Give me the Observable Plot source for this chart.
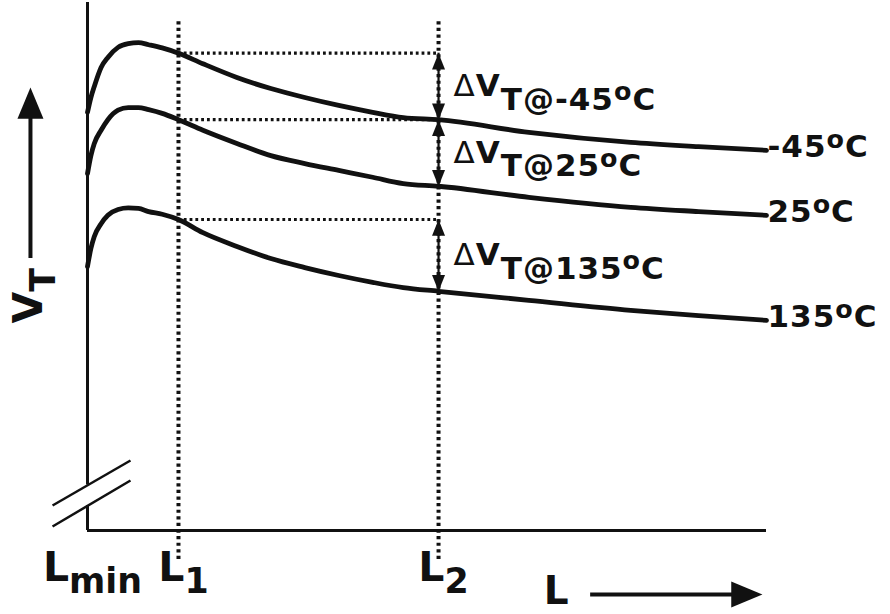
<!DOCTYPE html>
<html>
<head>
<meta charset="utf-8">
<script src="https://cdn.jsdelivr.net/npm/d3@7"></script>
<script src="https://cdn.jsdelivr.net/npm/@observablehq/plot@0.6"></script>
<style>
  html, body { margin: 0; padding: 0; background: #fff; }
</style>
</head>
<body>
<div id="chart"></div>
<script>
// Channel length L (normalized units, Lmin = 0), shared by all curves
const L = [0, 0.5, 1, 2, 3, 4.5, 6, 7.5, 9, 11, 13.4, 17, 22, 27, 32, 37, 42, 46.5, 51.7, 65, 80, 90, 100];

// Threshold voltage V_T (normalized units) at each L, one array per temperature
const vtMinus45 = [79.2, 82.0, 84.1, 87.7, 89.6, 91.5, 92.2, 92.4, 92.0, 91.4, 90.4, 88.4, 85.8, 83.7, 82.0, 80.5, 79.2, 78.2, 77.8, 75.4, 73.5, 72.7, 72.0];
const vt25      = [67.6, 71.0, 73.3, 75.8, 77.8, 79.6, 80.1, 80.1, 79.7, 79.0, 77.8, 75.8, 73.3, 71.0, 69.5, 68.2, 66.9, 65.7, 65.2, 63.1, 61.2, 60.4, 59.7];
const vt135     = [50.0, 53.4, 55.7, 58.1, 59.7, 60.8, 61.1, 61.0, 60.4, 59.9, 58.9, 56.4, 53.8, 51.5, 49.8, 48.3, 47.0, 46.0, 45.3, 43.6, 41.7, 40.7, 39.8];
const temperatures = ["-45°C", "25°C", "135°C"];

// Marked lengths on the L axis
const tickLabels = ["L_{min}", "L_{1}", "L_{2}"];
const tickL = [0, 13.4, 51.7];

// Axis titles
const yTitle = "V_{T}";
const xTitle = "L";

// ---- derived tables ----
const series = [vtMinus45, vt25, vt135];
const curves = series.flatMap((vs, k) => vs.map((v, i) => ({L: L[i], V: v, T: temperatures[k]})));
const L1 = tickL[1], L2 = tickL[2];
const i1 = L.indexOf(L1), i2 = L.indexOf(L2);
const deltas = series.map((vs, k) => ({
  top: vs[i1],
  bottom: vs[i2],
  mid: (vs[i1] + vs[i2]) / 2,
  label: `ΔV_{T@${temperatures[k]}}`
}));
const ends = series.map((vs, k) => ({L: L[L.length - 1], V: vs[vs.length - 1], label: temperatures[k]}));
const ticks = tickL.map((l, i) => ({L: l, label: tickLabels[i]}));

// Filled arrow head: tip at the anchor, pointing up; width = r, length = r * aspect
const arrowHead = (aspect) => ({
  draw(context, size) {
    const w = Math.sqrt(size / Math.PI), h = w * aspect;
    context.moveTo(0, 0);
    context.lineTo(w / 2, h);
    context.lineTo(-w / 2, h);
    context.closePath();
  }
});
const smallHead = arrowHead(1.25);
const bigHead = arrowHead(1.2);

const ink = "#111";

const chart = Plot.plot({
  width: 890,
  height: 614,
  marginLeft: 87,
  marginRight: 124,
  marginTop: 2,
  marginBottom: 84,
  x: {domain: [0, 100], axis: null},
  y: {domain: [0, 100], axis: null},
  style: {background: "#fff", fontFamily: "'DejaVu Sans', sans-serif", fontWeight: "bold", color: ink},
  marks: [
    // V_T axis (with a break near the origin) and L axis
    Plot.ruleX([0], {y1: 8.6, y2: 100, stroke: ink, strokeWidth: 3}),
    Plot.ruleX([0], {y1: 0, y2: 4.7, stroke: ink, strokeWidth: 3}),
    Plot.ruleY([0], {x1: 0, x2: 100, stroke: ink, strokeWidth: 3}),
    Plot.link([{x1: -5.15, y1: 4.73, x2: 6.33, y2: 13.26}, {x1: -5.15, y1: 0.76, x2: 6.33, y2: 9.47}],
      {x1: "x1", y1: "y1", x2: "x2", y2: "y2", stroke: ink, strokeWidth: 2.5}),

    // dotted guides at L1 and L2, and the V_T level reached at L1
    Plot.ruleX([L1, L2], {y1: -5.5, y2: 96.6, stroke: ink, strokeWidth: 4, strokeDasharray: "3.2,3.4"}),
    Plot.ruleY(deltas, {y: "top", x1: L1, x2: L2, stroke: ink, strokeWidth: 3.2, strokeDasharray: "2.8,3"}),

    // V_T(L) curves
    Plot.line(curves, {x: "L", y: "V", z: "T", curve: "monotone-x", stroke: ink, strokeWidth: 4.8}),

    // ΔV_T double arrows at L2
    Plot.ruleX(deltas, {x: L2, y1: "top", y2: "bottom", stroke: ink, strokeWidth: 2.2}),
    Plot.dot(deltas, {x: L2, y: "top", symbol: smallHead, r: 13, fill: ink, stroke: "none"}),
    Plot.dot(deltas, {x: L2, y: "bottom", symbol: smallHead, r: 13, rotate: 180, fill: ink, stroke: "none"}),
    Plot.text(deltas, {x: L2, y: "mid", text: "label", dx: 15, textAnchor: "start", lineAnchor: "middle", fontSize: 31, fill: ink}),

    // temperature labels at the curve ends
    Plot.text(ends, {x: "L", y: "V", text: "label", dx: 1, dy: -3, textAnchor: "start", lineAnchor: "middle", fontSize: 31, fill: ink}),

    // L axis labels
    Plot.text(ticks, {x: "L", text: "label", frameAnchor: "bottom", dy: 50, dx: 5, lineAnchor: "bottom", textAnchor: "middle", fontSize: 41, fill: ink}),

    // axis titles with their arrows
    Plot.text([yTitle], {x: -6.63, y: 39.2, text: (d) => d, rotate: -90, textAnchor: "start", lineAnchor: "bottom", fontSize: 41, fill: ink}),
    Plot.ruleX([-8.4], {y1: 51.5, y2: 79, stroke: ink, strokeWidth: 4}),
    Plot.dot([-8.4], {x: (d) => d, y: 83.9, symbol: bigHead, r: 26, fill: ink, stroke: "none"}),
    Plot.text([xTitle], {x: 67.2, y: -11.6, text: (d) => d, textAnchor: "start", lineAnchor: "middle", fontSize: 39, fill: ink}),
    Plot.ruleY([-12.1], {x1: 74.1, x2: 96, stroke: ink, strokeWidth: 4}),
    Plot.dot([-12.1], {x: 99.4, y: (d) => d, symbol: bigHead, r: 26, rotate: 90, fill: ink, stroke: "none"})
  ]
});

document.getElementById("chart").append(chart);

// Typeset "_{...}" as subscript, "°" as a raised small "o", and Δ in regular weight
function setRich(el) {
  const raw = el.textContent;
  if (!/[_°Δ]/.test(raw)) return;
  const fs = parseFloat(getComputedStyle(el).fontSize);
  const big = fs > 35;
  const subShift = (big ? 0.3 : 0.43) * fs;
  const subSize = (big ? 0.85 : 1) * fs;
  const runs = [];
  let sub = false, buf = "";
  const flush = () => { if (buf) runs.push({text: buf, sub}); buf = ""; };
  for (let i = 0; i < raw.length; i++) {
    const c = raw[i];
    if (c === "_" && raw[i + 1] === "{") { flush(); sub = true; i++; }
    else if (c === "}" && sub) { flush(); sub = false; }
    else if (c === "°") { flush(); runs.push({text: "o", sub, sup: true}); }
    else if (c === "Δ") { flush(); runs.push({text: "Δ", sub, light: true}); }
    else buf += c;
  }
  flush();
  el.textContent = "";
  if (!big) el.setAttribute("letter-spacing", "1");
  let prev = 0;
  for (const r of runs) {
    const size = r.sub ? subSize : fs;
    const shift = (r.sub ? subShift : 0) - (r.sup ? 0.3 * size : 0);
    const t = d3.select(el).append("tspan").text(r.text).attr("font-size", r.sup ? size * 0.82 : size);
    if (shift !== prev) t.attr("dy", shift - prev);
    if (r.light) t.attr("font-weight", "normal");
    prev = shift;
  }
}
d3.select(chart).selectAll("text").each(function () { setRich(this); });
</script>
</body>
</html>
